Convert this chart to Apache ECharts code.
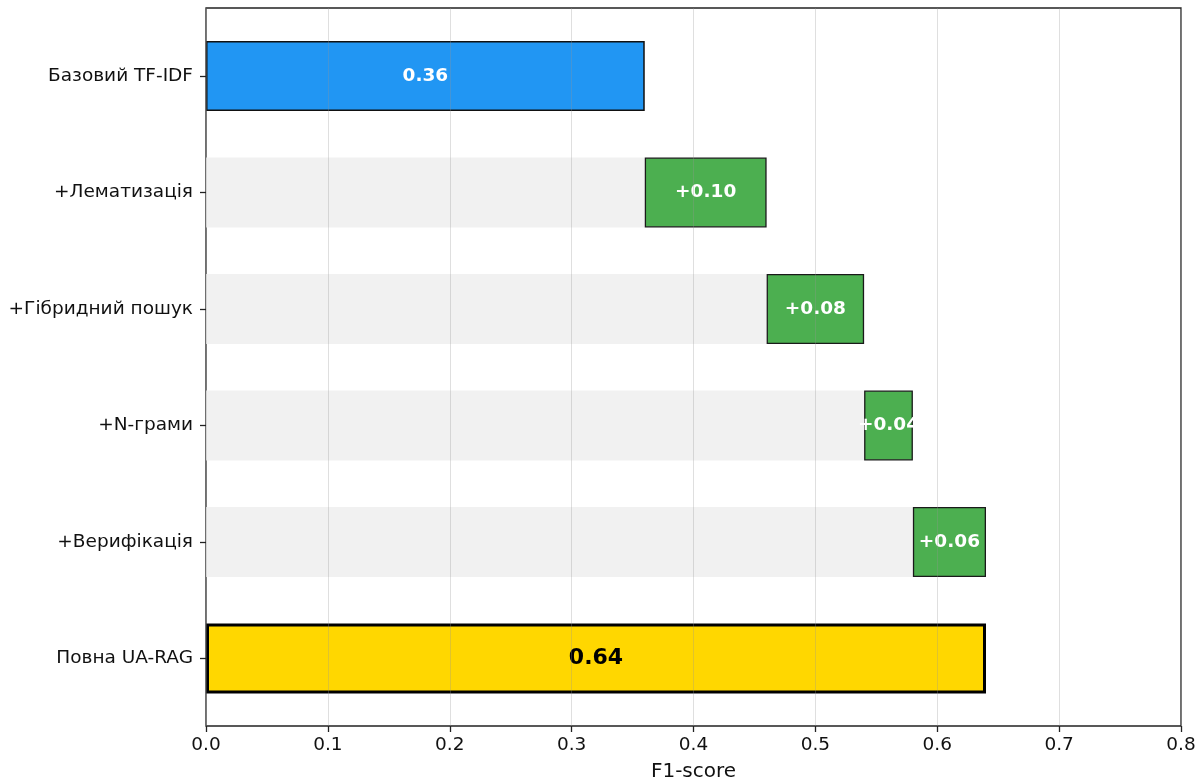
<!DOCTYPE html>
<html>
<head>
<meta charset="utf-8">
<script src="https://cdn.jsdelivr.net/npm/echarts@6/dist/echarts.min.js"></script>
<style>
html,body{margin:0;padding:0;background:#fff;}
#chart{width:1203px;height:782px;}
</style>
</head>
<body>
<div id="chart"></div>
<script>
const categories = ['Базовий TF-IDF', '+Лематизація', '+Гібридний пошук', '+N-грами', '+Верифікація', 'Повна UA-RAG'];
const offsets = [0, 0.36, 0.46, 0.54, 0.58, 0];
const deltas = [0.36, 0.10, 0.08, 0.04, 0.06, 0.64];
const barLabels = ['0.36', '+0.10', '+0.08', '+0.04', '+0.06', '0.64'];
const kinds = ['base', 'step', 'step', 'step', 'step', 'total'];
const xTicks = ['0.0', '0.1', '0.2', '0.3', '0.4', '0.5', '0.6', '0.7', '0.8'];

const FONT = 'DejaVu Sans';
const styles = {
  base: {fill: '#2196F3', border: '#111', bw: 1.5, lc: '#fff', ls: 18.5},
  step: {fill: '#4CAF50', border: '#1a1a1a', bw: 1.3, lc: '#fff', ls: 18.5},
  total: {fill: '#FFD700', border: '#000', bw: 3, lc: '#000', ls: 22}
};

const mainData = deltas.map((v, i) => {
  const s = styles[kinds[i]];
  return {
    value: v,
    itemStyle: {color: s.fill, borderColor: s.border, borderWidth: s.bw},
    label: {color: s.lc, fontSize: s.ls}
  };
});
const offsetData = offsets.map(v => ({value: v}));

const chart = echarts.init(document.getElementById('chart'), null, {renderer: 'canvas'});
chart.setOption({
  animation: false,
  backgroundColor: '#fff',
  grid: [
    {left: 206, right: 22, top: 8, bottom: 56, containLabel: false, outerBoundsMode: 'none',
      show: true, borderColor: '#222', borderWidth: 1.3, backgroundColor: 'transparent', z: 0},
    {left: 206, right: 22, top: 17.75, bottom: 65.25, containLabel: false, outerBoundsMode: 'none'}
  ],
  xAxis: [
    {
      gridIndex: 0, type: 'value', min: 0, max: 0.8, interval: 0.1, z: 5,
      name: 'F1-score', nameLocation: 'middle', nameGap: 36,
      nameTextStyle: {fontFamily: FONT, fontSize: 20, color: '#111'},
      axisLine: {show: false},
      axisTick: {show: true, length: 6, lineStyle: {color: '#222', width: 1.3}},
      axisLabel: {fontFamily: FONT, fontSize: 18.5, color: '#111', margin: 10,
        formatter: (v) => xTicks[Math.round(v * 10)]},
      splitLine: {show: true, lineStyle: {color: 'rgba(150,150,150,0.3)', width: 1}}
    },
    {gridIndex: 1, type: 'value', min: 0, max: 0.8, show: false, splitLine: {show: false}}
  ],
  yAxis: [
    {gridIndex: 0, type: 'value', min: 0, max: 1, show: false, splitLine: {show: false}},
    {
      gridIndex: 1, type: 'category', data: categories, inverse: true,
      axisLine: {show: false},
      axisTick: {show: true, alignWithLabel: true, length: 6, lineStyle: {color: '#222', width: 1.3}},
      axisLabel: {fontFamily: FONT, fontSize: 18.5, color: '#111', margin: 13},
      splitLine: {show: false}
    }
  ],
  series: [
    {
      type: 'bar', xAxisIndex: 1, yAxisIndex: 1, stack: 'w', barWidth: '60%',
      data: offsetData,
      itemStyle: {color: '#f1f1f1'},
      silent: true, z: 1
    },
    {
      type: 'bar', xAxisIndex: 1, yAxisIndex: 1, stack: 'w', barWidth: '60%',
      data: mainData, z: 2,
      label: {show: true, position: 'inside', fontFamily: FONT, fontWeight: 'bold',
        formatter: (p) => barLabels[p.dataIndex]}
    }
  ]
});
</script>
</body>
</html>
